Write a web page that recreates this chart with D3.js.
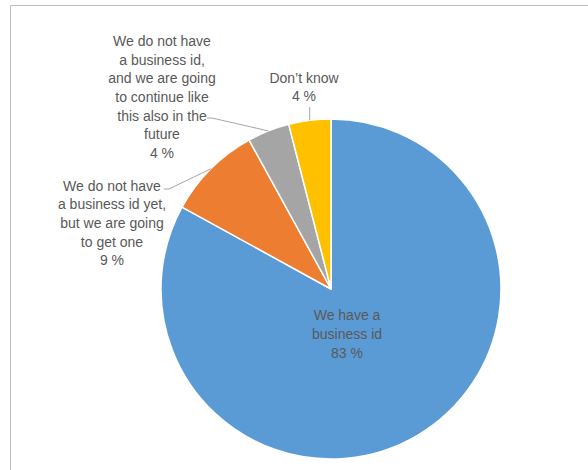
<!DOCTYPE html>
<html>
<head>
<meta charset="utf-8">
<script src="https://cdn.jsdelivr.net/npm/d3@7"></script>
<style>
  html, body { margin: 0; padding: 0; background: #fff; }
  svg { display: block; }
  text { font-family: "Liberation Sans", Arial, sans-serif; font-size: 14px; fill: #595959; }
</style>
</head>
<body>
<svg id="chart" width="588" height="470"></svg>
<script>
// Survey answers, in drawing order (clockwise from 12 o'clock)
const categories = [
  "We have a business id",
  "We do not have a business id yet, but we are going to get one",
  "We do not have a business id, and we are going to continue like this also in the future",
  "Don\u2019t know"
];
const values = [83, 9, 4, 4];
const colors = ["#5B9BD5", "#ED7D31", "#A5A5A5", "#FFC000"];
// Label text broken into lines, last line is the percentage
const labelLines = [
  ["We have a", "business id", "83 %"],
  ["We do not have", "a business id yet,", "but we are going", "to get one", "9 %"],
  ["We do not have", "a business id,", "and we are going", "to continue like", "this also in the", "future", "4 %"],
  ["Don\u2019t know", "4 %"]
];

const svg = d3.select("#chart");
const W = 588, H = 470;

// chart area frame
svg.append("path")
  .attr("d", `M10.5,${H} V5.5 H${W}`)
  .attr("fill", "none")
  .attr("stroke", "#bfbfbf")
  .attr("stroke-width", 1);

const cx = 331, cy = 289, R = 170;
const g = svg.append("g").attr("transform", `translate(${cx},${cy})`);

const pie = d3.pie().sort(null).value(d => d)(values);
const arc = d3.arc().innerRadius(0).outerRadius(R);

g.selectAll("path.slice")
  .data(pie)
  .join("path")
  .attr("class", "slice")
  .attr("d", arc)
  .attr("fill", (d, i) => colors[i])
  .attr("stroke", "#fff")
  .attr("stroke-width", 1.5)
  .attr("stroke-linejoin", "round");

// label placement: centre of the text block relative to pie centre
const lineH = 18.7;
const labelPos = [
  { x: 16, y: 45 },      // inside blue slice
  { x: -219, y: -66 },   // left of orange slice
  { x: -169, y: -192 },  // above-left of grey slice
  { x: -27, y: -202 }    // above yellow slice
];

// leader lines: [from label, elbow, to slice edge]
function edgePoint(d, r) {
  const a = (d.startAngle + d.endAngle) / 2;
  return [Math.sin(a) * r, -Math.cos(a) * r];
}
const leaders = [
  null,
  (d) => { const p = edgePoint(d, R); return [[-167, -100], [-162, -100], p]; },
  (d) => { const p = edgePoint(d, R); return [[-124, -171], [-119, -171], p]; },
  (d) => { const p = edgePoint(d, R); return [[p[0], -182], p]; }
];

const line = d3.line();
pie.forEach((d, i) => {
  if (leaders[i]) {
    g.append("path")
      .attr("d", line(leaders[i](d)))
      .attr("fill", "none")
      .attr("stroke", "#a6a6a6")
      .attr("stroke-width", 1);
  }
  const lines = labelLines[i];
  const pos = labelPos[i];
  const top = pos.y - (lines.length - 1) * lineH / 2;
  const t = g.append("text")
    .attr("text-anchor", "middle")
    .attr("dominant-baseline", "central");
  lines.forEach((s, k) => {
    t.append("tspan")
      .attr("x", pos.x)
      .attr("y", top + k * lineH)
      .text(s);
  });
});
</script>
</body>
</html>
